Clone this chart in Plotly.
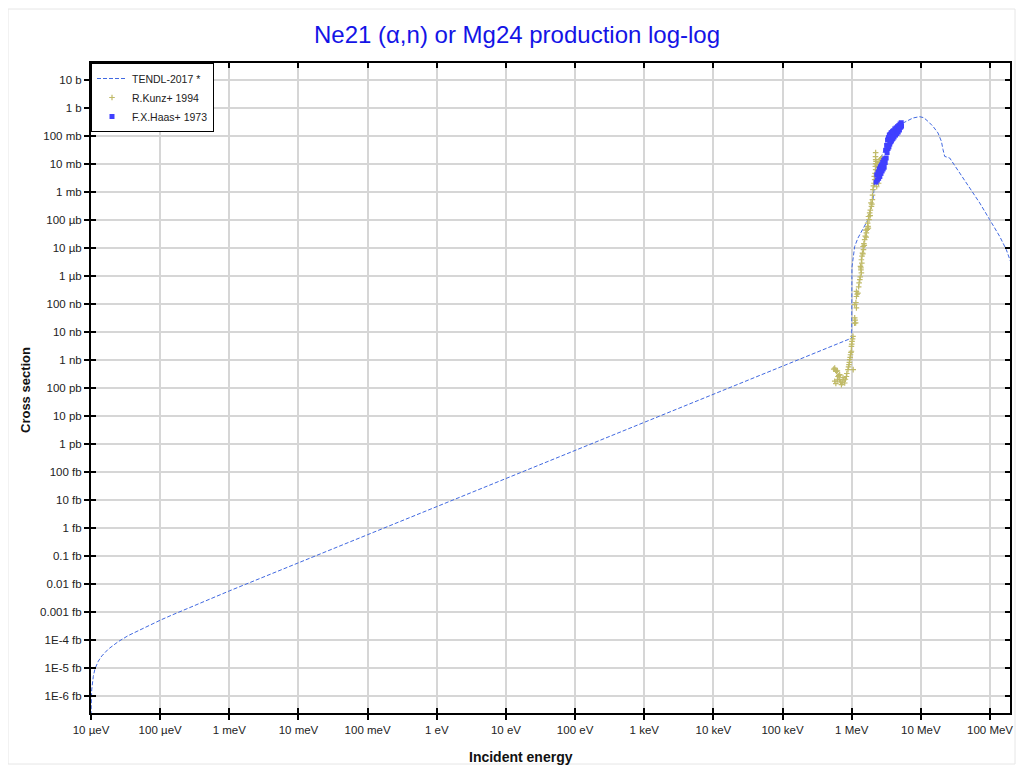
import numpy as np
import plotly.graph_objects as go

# ---------------- data ----------------
# TENDL-2017 evaluation: energy (eV), cross section (barn)
tendl_E = [1.0e-5, 1.023e-5, 1.08e-5, 1.14e-5, 1.275e-5, 1.43e-5, 1.78e-5, 2.48e-5,
           3.46e-5, 4.83e-5, 7.53e-5, 1.03e-4, 1.47e-4, 2.29e-4, 3.2e-4, 1e-3,
           1e-1, 1e1, 1e3, 1e5, 1.0e6, 1.008e6, 1.044e6, 1.105e6, 1.233e6, 1.38e6,
           1.54e6, 1.72e6, 1.82e6, 1.93e6, 2.03e6, 2.15e6, 2.28e6, 2.48e6, 2.69e6,
           3.0e6, 3.54e6, 4.2e6, 4.94e6, 6.19e6, 7.7e6, 9.6e6, 1.1e7, 1.27e7, 1.5e7,
           1.77e7, 1.98e7, 2.09e7, 2.21e7, 2.61e7, 2.92e7, 3.63e7, 5.11e7, 7.1e7,
           9.9e7, 1.38e8, 1.72e8, 2.0e8]
tendl_sig = [2.0e-22, 1.6e-21, 4.9e-21, 9.0e-21, 1.7e-20, 2.6e-20, 4.6e-20, 8.5e-20,
             1.4e-19, 2.1e-19, 3.6e-19, 5.1e-19, 7.5e-19, 1.2e-18, 1.72e-18, 5.5e-18,
             5.6e-16, 5.6e-14, 5.6e-12, 5.6e-10, 5.9e-9, 2.0e-6, 4.9e-6, 1.11e-5, 2.22e-5, 3.82e-5,
             5.76e-5, 1.0e-4, 1.78e-4, 3.0e-4, 5.2e-4, 2.1e-3, 4.8e-3, 1.09e-2, 1.82e-2,
             3.5e-2, 7.2e-2, 1.5e-1, 2.47e-1, 3.24e-1, 4.29e-1, 4.77e-1, 4.4e-1, 3.24e-1, 2.15e-1,
             1.25e-1, 6.3e-2, 3.2e-2, 1.82e-2, 1.6e-2, 1.06e-2, 4.66e-3, 1.36e-3, 3.95e-4,
             1.0e-4, 2.53e-5, 8.5e-6, 3.0e-6]

# R.Kunz+ 1994: energy (MeV), cross section (barn)
kunz_E = [0.55, 0.568, 0.585, 0.601, 0.62, 0.634, 0.65, 0.670, 0.568, 0.59, 0.62, 0.670,
          0.69, 0.710, 0.73, 0.748, 0.77, 0.792, 0.81, 0.838, 0.85, 0.884, 0.90, 0.914,
          0.925, 0.936, 0.95, 0.96, 0.975, 0.99, 0.99, 1.00, 1.01, 1.03, 1.044, 1.05,
          1.10, 1.14, 1.105, 1.12, 1.17, 1.105, 1.15, 1.17, 1.17, 1.20, 1.23, 1.26,
          1.31, 1.33, 1.38, 1.34, 1.36, 1.38, 1.40, 1.43, 1.41, 1.46, 1.48, 1.50,
          1.54, 1.57, 1.63, 1.60, 1.68, 1.72, 1.70, 1.78, 1.75, 1.82, 1.86, 1.93,
          1.90, 1.99, 2.00, 2.03, 2.06, 2.10, 2.15, 2.12, 2.18, 2.22, 2.20, 2.22,
          2.22, 2.21, 2.22, 2.25, 2.32, 2.35, 2.38, 2.42, 2.45, 2.50, 2.54, 2.62,
          2.72, 2.45, 2.55, 2.65, 2.30, 2.36,
          1.28, 1.36, 1.45, 1.52, 1.62, 1.74, 1.85, 1.96]
kunz_sig = [4.6e-10, 5.0e-10, 4.2e-10, 3.8e-10, 4.0e-10, 2.5e-10, 2.7e-10, 2.9e-10,
            1.7e-10, 1.4e-10, 1.9e-10, 1.93e-10, 1.6e-10, 1.28e-10, 1.5e-10, 2.3e-10,
            1.9e-10, 1.47e-10, 2.0e-10, 2.5e-10, 3.2e-10, 4.4e-10, 5.5e-10, 6.6e-10,
            8.0e-10, 1.0e-9, 1.2e-9, 1.5e-9, 1.8e-9, 2.0e-9, 3.0e-9, 3.6e-9, 4.5e-9,
            5.5e-9, 6.8e-9, 4.4e-10, 2.0e-8, 2.05e-8, 3.1e-8, 2.6e-8, 7.1e-8, 9.2e-8,
            1.1e-7, 1.8e-7, 2.75e-7, 2.2e-7, 2.4e-7, 4.0e-7, 7.2e-7, 9.0e-7, 1.25e-6,
            2.15e-6, 1.6e-6, 3.7e-6, 2.8e-6, 6.4e-6, 5.0e-6, 1.1e-5, 8.5e-6, 1.4e-5,
            1.93e-5, 2.6e-5, 3.35e-5, 4.2e-5, 4.5e-5, 5.8e-5, 7.5e-5, 1.0e-4, 1.3e-4,
            1.74e-4, 2.2e-4, 3.0e-4, 4.0e-4, 5.2e-4, 7.5e-4, 1.18e-3, 1.6e-3, 2.0e-3,
            2.7e-3, 3.5e-3, 4.5e-3, 6.1e-3, 8.0e-3, 1.0e-2, 1.39e-2, 1.8e-2, 2.5e-2,
            1.2e-2, 9.0e-3, 6.0e-3, 2.7e-3, 4.0e-3, 7.5e-3, 1.1e-2, 1.39e-2, 1.5e-2,
            1.6e-2, 2.0e-3, 5.0e-3, 9.0e-3, 1.5e-3, 3.0e-3,
            5.5e-7, 1.9e-6, 6.0e-6, 1.2e-5, 2.4e-5, 5.0e-5, 1.4e-4, 3.6e-4]

# F.X.Haas+ 1973: energy (MeV), cross section (barn)
haas_E = [2.25, 2.30, 2.35, 2.40, 2.45, 2.50, 2.55, 2.60, 2.65, 2.70, 2.75, 2.80,
          2.85, 2.90, 2.95, 3.00, 3.05, 3.10, 3.15, 3.20, 3.25, 3.30, 3.35, 3.40,
          3.45, 3.50, 3.55, 3.60, 3.65, 3.70, 3.75, 3.80, 3.85, 3.90, 3.95, 4.00,
          4.10, 4.20, 4.30, 4.40, 4.50, 4.60, 4.70, 4.80, 4.90, 5.00, 5.10, 5.20, 5.25]
haas_sig = [2.2e-3, 4.0e-3, 2.6e-3, 5.0e-3, 3.0e-3, 6.5e-3, 3.5e-3, 7.8e-3, 4.5e-3,
            9.0e-3, 5.5e-3, 1.1e-2, 6.5e-3, 1.3e-2, 7.5e-3, 1.5e-2, 1.1e-2, 3.0e-2,
            1.6e-2, 4.5e-2, 2.5e-2, 7.0e-2, 3.5e-2, 8.5e-2, 4.0e-2, 1.05e-1, 5.0e-2,
            1.1e-1, 6.0e-2, 1.25e-1, 6.5e-2, 1.3e-1, 7.5e-2, 1.4e-1, 8.0e-2, 1.5e-1,
            9.0e-2, 1.75e-1, 1.05e-1, 1.9e-1, 1.2e-1, 2.1e-1, 1.35e-1, 2.3e-1, 1.6e-1,
            2.6e-1, 2.0e-1, 2.9e-1, 2.2e-1]

x_tickvals = [1e-5, 1e-4, 1e-3, 1e-2, 1e-1, 1e0, 1e1, 1e2, 1e3, 1e4, 1e5, 1e6, 1e7, 1e8]
x_ticktext = ["10 µeV", "100 µeV", "1 meV", "10 meV", "100 meV", "1 eV", "10 eV",
              "100 eV", "1 keV", "10 keV", "100 keV", "1 MeV", "10 MeV", "100 MeV"]
y_tickvals = [10.0 ** p for p in range(1, -22, -1)]
y_ticktext = ["10 b", "1 b", "100 mb", "10 mb", "1 mb", "100 µb", "10 µb", "1 µb",
              "100 nb", "10 nb", "1 nb", "100 pb", "10 pb", "1 pb", "100 fb", "10 fb",
              "1 fb", "0.1 fb", "0.01 fb", "0.001 fb", "1E-4 fb", "1E-5 fb", "1E-6 fb"]

# ---------------- figure ----------------
FONT = "Liberation Sans, Arial, sans-serif"
W, H = 1008, 757
fig = go.Figure()

fig.add_trace(go.Scatter(
    x=tendl_E, y=tendl_sig, mode="lines", name="TENDL-2017 *",
    line=dict(color="rgb(65,105,225)", width=1, dash="4px,2px")))

fig.add_trace(go.Scatter(
    x=np.array(kunz_E) * 1e6, y=kunz_sig, mode="markers", name="R.Kunz+ 1994",
    marker=dict(symbol="cross-thin", size=4, color="rgb(192,186,104)",
                line=dict(color="rgb(192,186,104)", width=1.2))))

fig.add_trace(go.Scatter(
    x=np.array(haas_E) * 1e6, y=haas_sig, mode="markers", name="F.X.Haas+ 1973",
    marker=dict(symbol="square", size=5, color="rgb(64,64,255)")))

# invisible trace carrying the overlay axes (for inside mirrored ticks)
fig.add_trace(go.Scatter(x=[], y=[], xaxis="x2", yaxis="y2", showlegend=False,
                         hoverinfo="skip"))

xr = [-5, 8.289]
yr = [-21.62, 1.596]

axis_common = dict(type="log", zeroline=False, automargin=False)

fig.update_layout(
    width=W, height=H,
    margin=dict(l=83, r=6, t=55, b=52, autoexpand=False),
    paper_bgcolor="white", plot_bgcolor="white",
    font=dict(family=FONT, size=12, color="#222"),
    title=dict(text="Ne21 (α,n) or Mg24 production log-log",
               x=509 / W, xref="container", xanchor="center",
               y=1 - 27 / H, yref="container", yanchor="middle",
               font=dict(family=FONT, size=24, color="rgb(20,20,230)")),
    xaxis=dict(**axis_common, range=xr, tickvals=x_tickvals, ticktext=x_ticktext,
               showgrid=True, gridcolor="#d6d6d6", gridwidth=1.5,
               showline=True, linecolor="black", linewidth=2, mirror=True,
               ticks="outside", ticklen=5, tickcolor="black", tickwidth=1.5,
               tickfont=dict(size=11.5, color="#222")),
    yaxis=dict(**axis_common, range=yr, tickvals=y_tickvals, ticktext=y_ticktext,
               showgrid=True, gridcolor="#d6d6d6", gridwidth=1.5,
               showline=True, linecolor="black", linewidth=2, mirror=True,
               ticks="outside", ticklen=5, tickcolor="black", tickwidth=1.5,
               tickfont=dict(size=11.5, color="#222")),
    xaxis2=dict(**axis_common, range=xr, overlaying="x", matches="x", anchor="y2",
                tickvals=x_tickvals, showticklabels=False, showgrid=False,
                showline=False, ticks="inside", ticklen=5, tickcolor="black",
                tickwidth=1.5, mirror="allticks"),
    yaxis2=dict(**axis_common, range=yr, overlaying="y", matches="y", anchor="x2",
                side="left", tickvals=y_tickvals, showticklabels=False, showgrid=False,
                showline=False, ticks="inside", ticklen=5, tickcolor="black",
                tickwidth=1.5, mirror="allticks"),
    legend=dict(x=0, y=1, xanchor="left", yanchor="top", bgcolor="white",
                bordercolor="black", borderwidth=1, font=dict(size=10.5, color="#222"),
                tracegroupgap=0, itemwidth=30),
    showlegend=True,
)

fig.add_annotation(text="<b>Incident energy</b>", xref="paper", yref="paper",
                   x=(521 - 91) / 919, y=-(757 - 713) / 650, showarrow=False,
                   xanchor="center", yanchor="middle", font=dict(size=14, color="#111"))
fig.add_annotation(text="<b>Cross section</b>", xref="paper", yref="paper",
                   x=-(91 - 25) / 919, y=(713 - 390) / 650, showarrow=False, textangle=-90,
                   xanchor="center", yanchor="middle", font=dict(size=13, color="#111"))

# faint outer frame along the figure edge
fig.add_shape(type="rect", xref="paper", yref="paper",
              x0=-83 / 919, x1=(919 + 5) / 919,
              y0=-51 / 650, y1=(650 + 54) / 650,
              line=dict(color="#e6e6e6", width=1), fillcolor="rgba(0,0,0,0)", layer="below")

fig.write_html("out.html")
